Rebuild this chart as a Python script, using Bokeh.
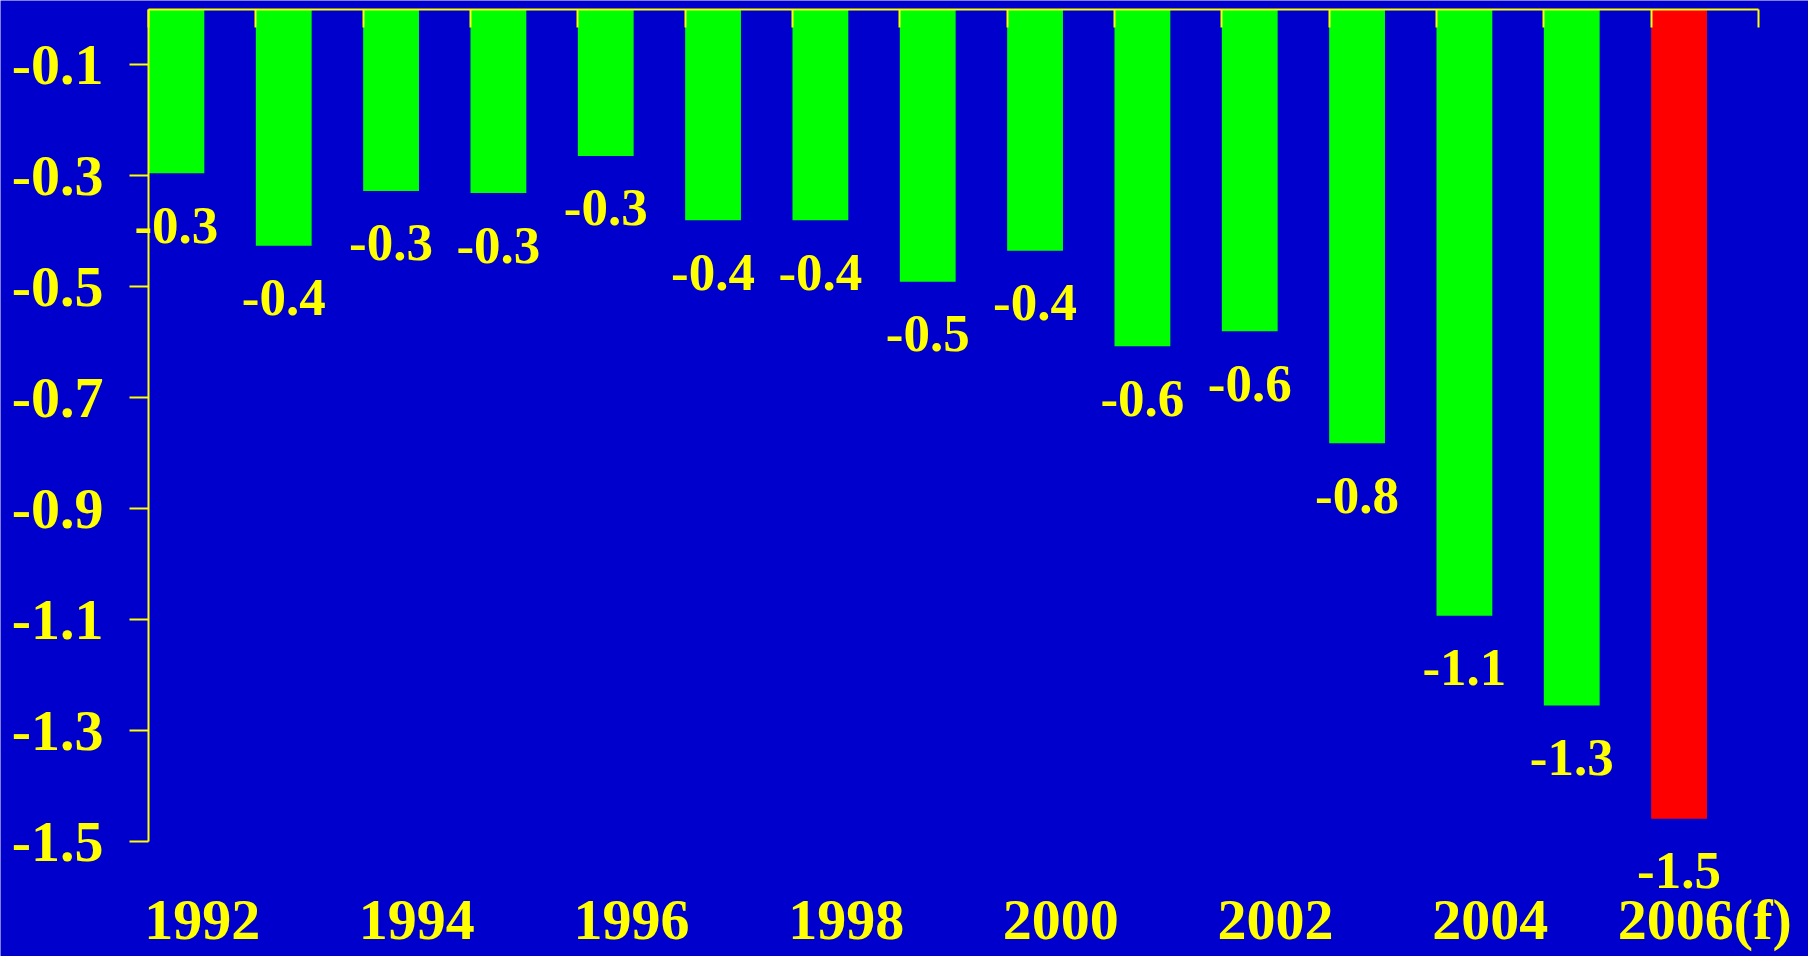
import numpy as np
from bokeh.plotting import figure
from bokeh.models import Range1d, LinearAxis, FixedTicker, ColumnDataSource
from bokeh.core.properties import value
from bokeh.embed import file_html
from bokeh.resources import INLINE

# Annual balance, 1992-2006 (2006 is a forecast)
years = ["1992", "1993", "1994", "1995", "1996", "1997", "1998", "1999",
         "2000", "2001", "2002", "2003", "2004", "2005", "2006(f)"]
balance = [-0.295, -0.426, -0.327, -0.331, -0.264, -0.380, -0.380, -0.491,
           -0.435, -0.607, -0.580, -0.782, -1.093, -1.255, -1.459]
forecast = [False] * 14 + [True]

y_ticks = [-0.1, -0.3, -0.5, -0.7, -0.9, -1.1, -1.3, -1.5]
y_tick_labels = ["-0.1", "-0.3", "-0.5", "-0.7", "-0.9", "-1.1", "-1.3", "-1.5"]

BG = "#0000CC"
YELLOW = "#FFFF00"
GREEN = "#00FF00"
RED = "#FF0000"
FONT = "Liberation Serif"
BAR_W = 0.52
Y_MIN = -1.5
N = len(years)

# The frame fills the whole canvas so the value labels are never clipped;
# the axes are pinned inside it with fixed_location.
W, H = 1808, 956
PLOT_L, PLOT_R, PLOT_T, PLOT_B = 148, 1758, 9, 841
px_x = (PLOT_R - PLOT_L) / N
px_y = (PLOT_B - PLOT_T) / -Y_MIN
x_range = Range1d(-PLOT_L / px_x, N + (W - PLOT_R) / px_x)
y_range = Range1d(-(H - PLOT_T) / px_y, PLOT_T / px_y)

idx = np.arange(N)
src = ColumnDataSource(dict(
    left=idx.astype(float),
    right=idx + BAR_W,
    mid=idx + BAR_W / 2,
    top=np.zeros(N),
    bottom=balance,
    color=[RED if f else GREEN for f in forecast],
    label=[f"{v:.1f}" for v in balance],
))

p = figure(width=W, height=H, x_range=x_range, y_range=y_range,
           x_axis_location=None, y_axis_location=None,
           output_backend="svg", toolbar_location=None,
           min_border=0)
p.background_fill_color = BG
p.border_fill_color = BG
p.outline_line_color = None
p.xgrid.visible = False
p.ygrid.visible = False

# value axis on the left, ticks pointing outwards
left = LinearAxis(ticker=FixedTicker(ticks=y_ticks), bounds=(Y_MIN, 0),
                  fixed_location=0,
                  major_label_overrides={t: s for t, s in zip(y_ticks, y_tick_labels)})
left.axis_line_color = YELLOW
left.axis_line_width = 2
left.major_tick_line_color = YELLOW
left.major_tick_line_width = 2
left.major_tick_in = 0
left.major_tick_out = 19
left.minor_tick_line_color = None
left.major_label_standoff = 26
left.major_label_text_color = YELLOW
left.major_label_text_font = FONT
left.major_label_text_font_style = "bold"
left.major_label_text_font_size = "58px"
p.add_layout(left, "left")

# zero line along the top with category dividers
top = LinearAxis(ticker=FixedTicker(ticks=list(range(N + 1))), bounds=(0, N),
                 fixed_location=0,
                 major_label_overrides={i: "" for i in range(N + 1)})
top.axis_line_color = YELLOW
top.axis_line_width = 2
top.major_tick_line_color = YELLOW
top.major_tick_line_width = 2
top.major_tick_in = 18
top.major_tick_out = 0
top.minor_tick_line_color = None
top.major_label_standoff = 0
top.major_label_text_font_size = "1px"
p.add_layout(top, "above")

# year labels under the plot, every other year
shown = idx[::2]
bottom = LinearAxis(ticker=FixedTicker(ticks=[i + 0.5 for i in shown]),
                    fixed_location=Y_MIN,
                    major_label_overrides={i + 0.5: years[i] for i in shown})
bottom.axis_line_color = None
bottom.major_tick_line_color = None
bottom.minor_tick_line_color = None
bottom.major_label_standoff = 39
bottom.major_label_text_color = YELLOW
bottom.major_label_text_font = FONT
bottom.major_label_text_font_style = "bold"
bottom.major_label_text_font_size = "58px"
p.add_layout(bottom, "below")

p.quad(left="left", right="right", top="top", bottom="bottom",
       fill_color="color", line_color=None, source=src)

p.text(x="mid", y="bottom", text="label", source=src,
       text_align="center", text_baseline="middle", y_offset=52,
       text_color=YELLOW, text_font=value(FONT), text_font_style="bold",
       text_font_size="53px")

open("out.html", "w").write(file_html(p, INLINE))
